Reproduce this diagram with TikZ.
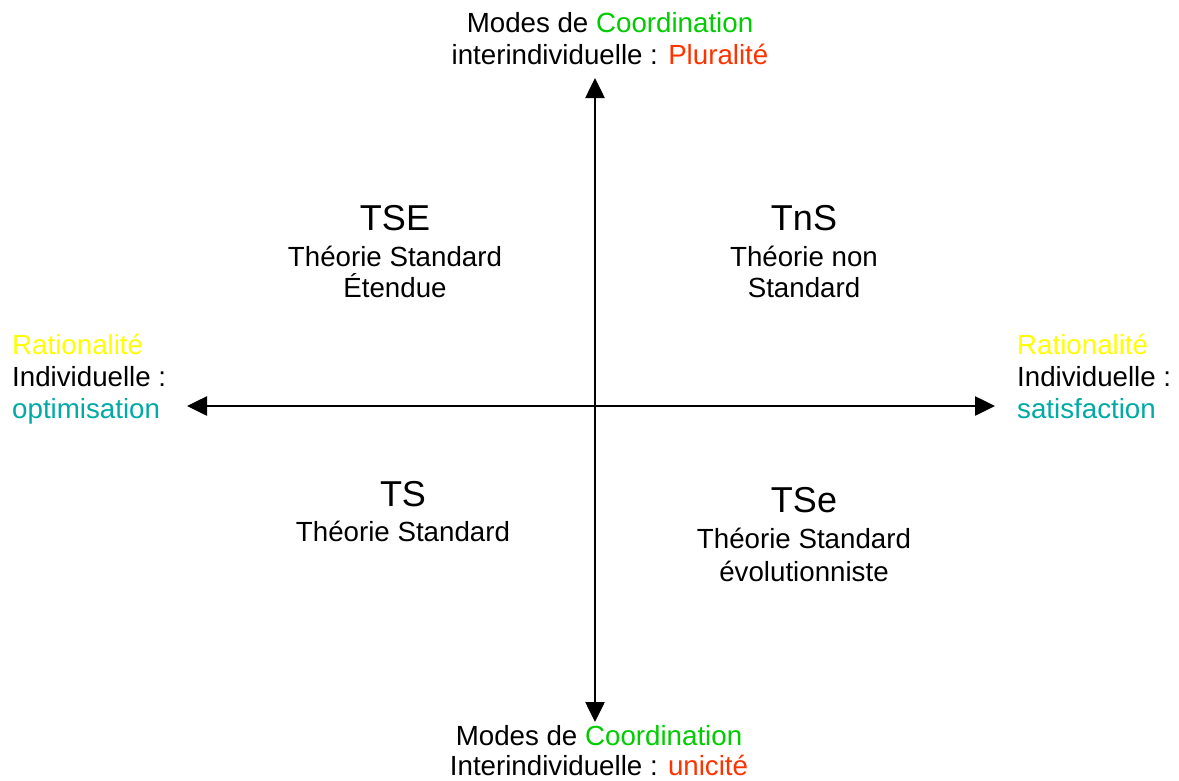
\documentclass[tikz,border=0pt]{standalone}
\usepackage{fontspec}
\setmainfont{Liberation Sans}
\usetikzlibrary{arrows.meta}
\definecolor{cgreen}{RGB}{0,204,0}
\definecolor{cred}{RGB}{255,51,0}
\definecolor{cyellow}{RGB}{255,255,0}
\definecolor{cteal}{RGB}{0,170,165}
\begin{document}
\begin{tikzpicture}[x=1pt,y=-1pt,
  lbl/.style={inner sep=0pt, anchor=base, font=\fontsize{27.7}{32}\selectfont},
  lblw/.style={lbl, anchor=base west},
  big/.style={inner sep=0pt, anchor=base, font=\fontsize{36}{42}\selectfont},
  axis/.style={line width=2.6pt, -{Triangle[length=20pt,width=19pt]}, shorten >=0pt}]
\useasboundingbox (0,0) rectangle (1179,780);
\fill[white] (0,0) rectangle (1179,780);
% axes
\coordinate (c) at (595,406);
\coordinate (top) at (595,78);
\coordinate (bot) at (595,722);
\coordinate (lft) at (187,406);
\coordinate (rgt) at (995,406);
\draw[axis] (c) -- (top);
\draw[axis] (c) -- (bot);
\draw[axis] (c) -- (lft);
\draw[axis] (c) -- (rgt);
% top label
\node[lbl] (t1) at (610,32) {Modes de \textcolor{cgreen}{Coordination}};
\node[lbl] (t2) at (610,64) {interindividuelle : \textcolor{cred}{Pluralité}};
% bottom label
\node[lbl] (b1) at (599,745) {Modes de \textcolor{cgreen}{Coordination}};
\node[lbl] (b2) at (599,775) {Interindividuelle : \textcolor{cred}{unicité}};
% left label
\node[lblw] (l1) at (12,354) {\textcolor{cyellow}{Rationalité}};
\node[lblw] (l2) at (12,386) {Individuelle :};
\node[lblw] (l3) at (12,418) {\textcolor{cteal}{optimisation}};
% right label
\node[lblw] (r1) at (1017,354) {\textcolor{cyellow}{Rationalité}};
\node[lblw] (r2) at (1017,386) {Individuelle :};
\node[lblw] (r3) at (1017,418) {\textcolor{cteal}{satisfaction}};
% quadrants
\node[big] (tse) at (395,230) {TSE};
\node[lbl] (tse1) at (395,266) {Théorie Standard};
\node[lbl] (tse2) at (395,297) {Étendue};
\node[big] (tns) at (804,230) {TnS};
\node[lbl] (tns1) at (804,266) {Théorie non};
\node[lbl] (tns2) at (804,297) {Standard};
\node[big] (ts) at (403,506) {TS};
\node[lbl] (ts1) at (403,541) {Théorie Standard};
\node[big] (tse3) at (804,512) {TSe};
\node[lbl] (tse4) at (804,548) {Théorie Standard};
\node[lbl] (tse5) at (804,581) {évolutionniste};
\end{tikzpicture}
\end{document}
